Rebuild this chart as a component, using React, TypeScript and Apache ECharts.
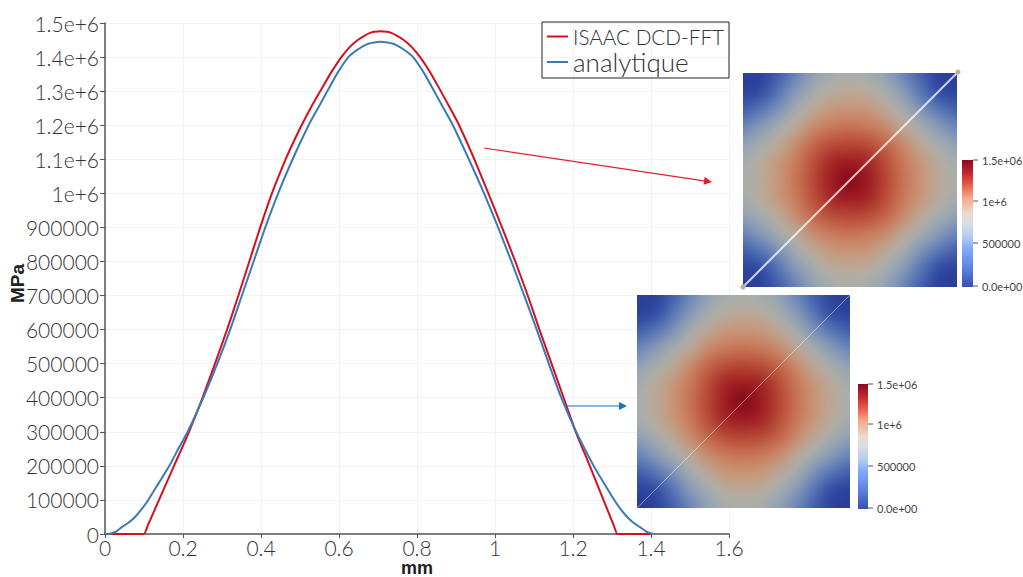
import React, { useEffect, useRef } from "react";
import * as echarts from "echarts";

const redX = [0, 0.09, 0.1, 0.11, 0.1385, 0.177, 0.2155, 0.25, 0.282, 0.313, 0.342, 0.37, 0.398, 0.428, 0.463, 0.483, 0.504, 0.527, 0.552, 0.58, 0.606, 0.628, 0.648, 0.667, 0.68, 0.69, 0.707, 0.724, 0.734, 0.747, 0.766, 0.786, 0.808, 0.834, 0.861, 0.885, 0.908, 0.947, 0.983, 1.018, 1.052, 1.084, 1.114, 1.145, 1.176, 1.207, 1.243, 1.278, 1.304, 1.314, 1.324, 1.4];
const redY = [0, 0, 0, 26000, 100000, 200000, 300000, 400000, 500000, 600000, 700000, 800000, 900000, 1000000, 1100000, 1150000, 1200000, 1250000, 1300000, 1355000, 1400000, 1430000, 1450000, 1464000, 1471000, 1474000, 1476000, 1474000, 1471000, 1464000, 1450000, 1430000, 1400000, 1355000, 1300000, 1250000, 1200000, 1100000, 1000000, 900000, 800000, 700000, 600000, 500000, 400000, 300000, 200000, 100000, 27000, 0, 0, 0];
const blueX = [0, 0.013, 0.028, 0.043, 0.06, 0.077, 0.094, 0.111, 0.138, 0.165, 0.188, 0.212, 0.252, 0.288, 0.321, 0.351, 0.381, 0.411, 0.444, 0.481, 0.522, 0.546, 0.57, 0.597, 0.624, 0.645, 0.66, 0.675, 0.69, 0.707, 0.724, 0.739, 0.754, 0.769, 0.79, 0.817, 0.844, 0.868, 0.892, 0.933, 0.972, 1.008, 1.042, 1.075, 1.107, 1.138, 1.17, 1.208, 1.253, 1.279, 1.306, 1.322, 1.339, 1.355, 1.372, 1.388, 1.405];
const blueY = [0, 1000, 7000, 20000, 33000, 50000, 73000, 100000, 150000, 200000, 250000, 300000, 400000, 500000, 600000, 700000, 800000, 900000, 1000000, 1100000, 1200000, 1250000, 1300000, 1355000, 1400000, 1420000, 1431000, 1439000, 1443000, 1445000, 1443000, 1439000, 1431000, 1420000, 1400000, 1355000, 1300000, 1250000, 1200000, 1100000, 1000000, 900000, 800000, 700000, 600000, 500000, 400000, 300000, 200000, 150000, 100000, 73000, 50000, 33000, 20000, 7000, 0];

const seriesNames = ["ISAAC DCD-FFT", "analytique"];
const barLabelsTop = ["1.5e+06", "1e+6", "500000", "0.0e+00"];

// One quadrant of the stress field, centre (row 0, col 0) to corner (row 6, col 6), in 1e5 MPa.
const fieldQuadrant = [
  [14.8, 13.6, 11.8, 10.3, 9.0, 8.0, 7.0],
  [13.6, 13.2, 11.6, 10.1, 8.9, 7.8, 6.8],
  [11.8, 11.6, 10.8, 9.4, 8.0, 6.8, 5.8],
  [10.3, 10.1, 9.4, 8.0, 6.8, 5.4, 4.4],
  [9.0, 8.9, 8.0, 6.8, 5.0, 3.6, 2.7],
  [8.0, 7.8, 6.8, 5.4, 3.6, 1.7, 1.0],
  [7.0, 6.8, 5.8, 4.4, 2.7, 1.0, 0.7],
];
const fieldStops: number[] = [0, 2, 4, 6, 7.5, 9, 10.5, 12, 13.5, 15];
const fieldColors: number[][] = [
  [38, 54, 145], [52, 78, 165], [95, 125, 185], [150, 165, 180], [178, 178, 168],
  [200, 150, 120], [200, 110, 80], [180, 65, 50], [160, 30, 35], [130, 5, 25],
];
const barStops: [number, string][] = [
  [0, "#8b0a20"], [0.1, "#c0272d"], [0.2, "#e8604a"], [0.3, "#f5a98c"], [0.42, "#ecd9cf"],
  [0.5, "#d9dde5"], [0.6, "#b6cdf2"], [0.7, "#80aaf5"], [0.85, "#5a82e0"], [1, "#3a50b0"],
];

function colorOf(v: number) {
  let i = 0;
  while (i < fieldStops.length - 2 && v > fieldStops[i + 1]) i++;
  const t = Math.max(0, Math.min(1, (v - fieldStops[i]) / (fieldStops[i + 1] - fieldStops[i])));
  return fieldColors[i].map((c, k) => Math.round(c + (fieldColors[i + 1][k] - c) * t));
}

function fieldImage(size: number) {
  const n = fieldQuadrant.length;
  const m = 2 * n - 1;
  const src = document.createElement("canvas");
  src.width = m;
  src.height = m;
  const sctx = src.getContext("2d")!;
  const img = sctx.createImageData(m, m);
  for (let r = 0; r < m; r++) {
    for (let c = 0; c < m; c++) {
      const v = fieldQuadrant[Math.abs(r - n + 1)][Math.abs(c - n + 1)];
      const rgb = colorOf(v);
      const o = (r * m + c) * 4;
      img.data[o] = rgb[0];
      img.data[o + 1] = rgb[1];
      img.data[o + 2] = rgb[2];
      img.data[o + 3] = 255;
    }
  }
  sctx.putImageData(img, 0, 0);
  const out = document.createElement("canvas");
  out.width = size;
  out.height = size;
  const ctx = out.getContext("2d")!;
  ctx.imageSmoothingEnabled = true;
  ctx.imageSmoothingQuality = "high";
  ctx.drawImage(src, 0.5, 0.5, m - 1, m - 1, 0, 0, size, size);
  return out.toDataURL("image/png");
}

function barGradient() {
  return new echarts.graphic.LinearGradient(0, 0, 0, 1, barStops.map(([offset, color]) => ({ offset, color })));
}

function inset(x: number, y: number, s: number, image: string, bx: number, by: number, bw: number, bh: number, labelYs: number[], lineStyle: any, ends: boolean) {
  const els: any[] = [
    { type: "image", z: 50, style: { image, x, y, width: s, height: s } },
    { type: "line", z: 51, shape: { x1: x, y1: y + s, x2: x + s, y2: y }, style: lineStyle },
    { type: "rect", z: 50, shape: { x: bx, y: by, width: bw, height: bh }, style: { fill: barGradient() } },
  ];
  if (ends) {
    els.push({ type: "circle", z: 52, shape: { cx: x, cy: y + s, r: 2.5 }, style: { fill: "#b5b3a8" } });
    els.push({ type: "circle", z: 52, shape: { cx: x + s + 1, cy: y - 1, r: 2.5 }, style: { fill: "#b5b3a8" } });
  }
  barLabelsTop.forEach((t, i) => {
    els.push({ type: "line", z: 50, shape: { x1: bx + bw, y1: labelYs[i], x2: bx + bw + 5, y2: labelYs[i] }, style: { stroke: "#555", lineWidth: 1 } });
    els.push({ type: "text", z: 50, style: { x: bx + bw + 9, y: labelYs[i], text: t, fill: "#444", fontSize: 11, fontFamily: "Lato", verticalAlign: "middle" } });
  });
  return els;
}

function arrow(x1: number, y1: number, x2: number, y2: number, color: string) {
  const a = Math.atan2(y2 - y1, x2 - x1);
  const bx = x2 - 8 * Math.cos(a);
  const by = y2 - 8 * Math.sin(a);
  const nx = -Math.sin(a) * 4;
  const ny = Math.cos(a) * 4;
  return [
    { type: "line", z: 50, shape: { x1, y1, x2: bx, y2: by }, style: { stroke: color, lineWidth: 1.2 } },
    { type: "polygon", z: 50, shape: { points: [[x2, y2], [bx + nx, by + ny], [bx - nx, by - ny]] }, style: { fill: color } },
  ];
}

export default function App() {
  const ref = useRef<HTMLDivElement>(null);
  useEffect(() => {
    const chart = echarts.init(ref.current!, undefined, { renderer: "svg" });
    const img = fieldImage(428);
    const font = "Lato";
    chart.setOption({
      animation: false,
      backgroundColor: "#fff",
      grid: { left: 105, top: 23, width: 624, height: 511, containLabel: false, outerBoundsMode: "none" },
      xAxis: {
        type: "value", min: 0, max: 1.6, interval: 0.2,
        name: "mm", nameLocation: "middle", nameGap: 25, nameMoveOverlap: false,
        nameTextStyle: { fontSize: 18, fontWeight: "bold", color: "#222", fontFamily: "Liberation Sans" },
        axisLine: { onZero: false, lineStyle: { color: "#555", width: 1.5 } },
        axisTick: { show: true, length: 4, lineStyle: { color: "#555" } },
        axisLabel: { fontSize: 21, lineHeight: 19, fontWeight: 300, color: "#333", fontFamily: font, margin: 4, formatter: (v: number) => String(Number(v.toFixed(1))), showMaxLabel: true },
        splitLine: { show: true, lineStyle: { color: "#f1f2f5", width: 1 } },
      },
      yAxis: {
        type: "value", min: 0, max: 1500000, interval: 100000,
        name: "MPa", nameLocation: "middle", nameGap: 78, nameMoveOverlap: false,
        nameTextStyle: { fontSize: 19, fontWeight: "bold", color: "#222", fontFamily: "Liberation Sans", padding: [0, 10, 0, 0] },
        axisLine: { show: true, onZero: false, lineStyle: { color: "#555", width: 1.5 } },
        axisTick: { show: true, length: 5, lineStyle: { color: "#555" } },
        axisLabel: { fontSize: 21, fontWeight: 300, color: "#333", fontFamily: font, margin: 6, padding: [0, 0, 4, 0], formatter: (v: number) => (v >= 1000000 ? `${Number((v / 1000000).toFixed(1))}e+6` : String(v)) },
        splitLine: { show: true, lineStyle: { color: "#f1f2f5", width: 1 } },
      },
      legend: {
        show: true, left: 542, top: 22, orient: "vertical", padding: [4, 5, 4, 5], itemGap: 2,
        itemWidth: 21, itemHeight: 12, icon: "path://M0 5 H21 V7 H0 Z",
        formatter: (n: string) => (n === seriesNames[1] ? `{b|${n}}` : `{a|${n}}`),
        textStyle: {
          color: "#333", fontFamily: font, fontWeight: 300,
          rich: {
            a: { fontSize: 20.7, fontWeight: 300, fontFamily: font, color: "#333", height: 24 },
            b: { fontSize: 26, fontWeight: 300, fontFamily: font, color: "#333", height: 24 },
          },
        },
        data: seriesNames,
      },
      series: [
        { name: seriesNames[0], type: "line", data: redX.map((x, i) => [x, redY[i]]), smooth: 0.2, symbol: "none", lineStyle: { color: "#d6101e", width: 2 }, itemStyle: { color: "#d6101e" } },
        { name: seriesNames[1], type: "line", data: blueX.map((x, i) => [x, blueY[i]]), smooth: 0.2, symbol: "none", lineStyle: { color: "#3a7ab5", width: 2 }, itemStyle: { color: "#3a7ab5" } },
      ],
      graphic: [
        { type: "rect", z: 100, shape: { x: 542, y: 22, width: 187, height: 56 }, style: { fill: "none", stroke: "#222", lineWidth: 1 } },
        ...arrow(484, 148, 712, 182, "#e0202a"),
        ...arrow(567, 406, 627, 406, "#0f75bd"),
        ...inset(743, 73, 214, img, 962, 160, 11, 127, [160, 201, 243, 286], { stroke: "rgba(255,255,255,0.75)", lineWidth: 2 }, true),
        ...inset(637, 295, 213, img, 858, 384, 10, 125, [384, 424, 466, 508], { stroke: "rgba(255,255,255,0.45)", lineWidth: 1 }, false),
      ],
    });
    return () => chart.dispose();
  }, []);
  return <div ref={ref} style={{ width: 1023, height: 577, position: "absolute", left: 0, top: 0 }} />;
}
